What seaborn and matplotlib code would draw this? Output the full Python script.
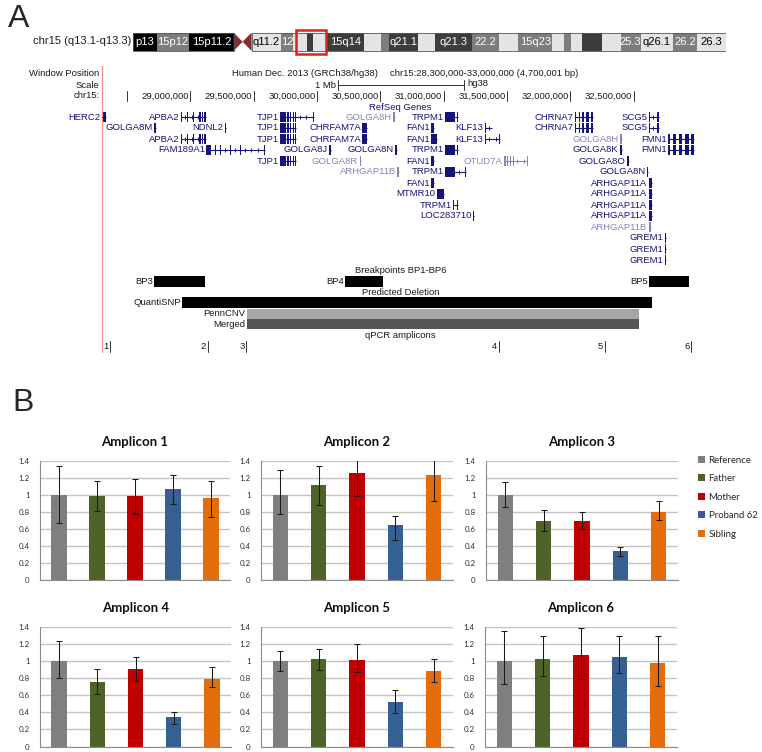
import numpy as np
import pandas as pd
import matplotlib
matplotlib.use("Agg")
import matplotlib.pyplot as plt
from matplotlib.patches import Rectangle, Polygon, Patch
import seaborn as sns

# ======================= DATA =======================
# ---- Panel A: chromosome 15 ideogram (Mb) ----
band_edges = [0, 4.1, 9.7, 17.3, 20.4, 25.4, 27.6, 29.9, 30.9, 33.3, 39.7, 42.6, 44.0, 49.0,
              52.0, 58.3, 63.0, 66.3, 72.1, 74.2, 75.4, 77.2, 80.6, 83.9, 87.3, 92.9, 97.0, 102.0]
band_stains = ['k', 'm', 'k', 'acen', 'w', 'm', 'w', 'd', 'w', 'd', 'w', 'm', 'd', 'w', 'd', 'm',
               'w', 'm', 'w', 'm', 'w', 'd', 'w', 'm', 'w', 'm', 'w']
band_labels = ['p13', '15p12', '15p11.2', '', 'q11.2', '12', '', '', '', '15q14', '', '', 'q21.1', '',
               'q21.3', '22.2', '', '15q23', '', '', '', '', '', '25.3', 'q26.1', '26.2', '26.3']
window_start, window_end = 28.3, 33.0

ruler_ticks = [28.5, 29.0, 29.5, 30.0, 30.5, 31.0, 31.5, 32.0, 32.5]
scalebar_start, scalebar_len = 30.163, 1.0

# ---- Panel A: RefSeq genes (name, row, light colour, exon blocks in Mb) ----
TJP1_ex = [(29.708, 29.755), (29.765, 29.775), (29.787, 29.795), (29.808, 29.816), (29.826, 29.834)]
APBA2_ex = [(28.924, 28.930), (28.975, 28.981), (29.022, 29.028), (29.072, 29.082), (29.093, 29.101), (29.110, 29.127)]
TRPM1_ex = [(31.010, 31.090), (31.105, 31.113)]
CHRNA7_ex = [(32.037, 32.041), (32.072, 32.078), (32.089, 32.105), (32.121, 32.145), (32.160, 32.179)]
SCG5_ex = [(32.619, 32.623), (32.683, 32.700)]
FMN1_ex = [(32.771, 32.787), (32.808, 32.832), (32.858, 32.884), (32.902, 32.936), (32.950, 32.976)]
ARHGAP11A_ex = [(32.621, 32.647)]

gene_names = ['HERC2', 'APBA2', 'TJP1', 'GOLGA8H', 'TRPM1', 'CHRNA7', 'SCG5',
              'GOLGA8M', 'NDNL2', 'TJP1', 'CHRFAM7A', 'FAN1', 'KLF13', 'CHRNA7', 'SCG5',
              'APBA2', 'TJP1', 'CHRFAM7A', 'FAN1', 'KLF13', 'GOLGA8H', 'FMN1',
              'FAM189A1', 'GOLGA8J', 'GOLGA8N', 'TRPM1', 'GOLGA8K', 'FMN1',
              'TJP1', 'GOLGA8R', 'FAN1', 'OTUD7A', 'GOLGA8O',
              'ARHGAP11B', 'TRPM1', 'GOLGA8N',
              'FAN1', 'ARHGAP11A',
              'MTMR10', 'ARHGAP11A',
              'TRPM1', 'ARHGAP11A',
              'LOC283710', 'ARHGAP11A',
              'ARHGAP11B',
              'GREM1', 'GREM1', 'GREM1']
gene_rows = [1, 1, 1, 1, 1, 1, 1,
             2, 2, 2, 2, 2, 2, 2, 2,
             3, 3, 3, 3, 3, 3, 3,
             4, 4, 4, 4, 4, 4,
             5, 5, 5, 5, 5,
             6, 6, 6,
             7, 7,
             8, 8,
             9, 9,
             10, 10,
             11,
             12, 13, 14]
gene_light = [False, False, False, True, False, False, False,
              False, False, False, False, False, False, False, False,
              False, False, False, False, False, True, False,
              False, False, False, False, False, False,
              False, True, False, True, False,
              True, False, False,
              False, False,
              False, False,
              False, False,
              False, False,
              True,
              False, False, False]
gene_exons = [[(28.303, 28.334)], APBA2_ex, TJP1_ex + [(29.965, 29.976)], [(30.603, 30.619)], TRPM1_ex, CHRNA7_ex, SCG5_ex,
              [(28.713, 28.732)], [(29.273, 29.284)], TJP1_ex, [(30.358, 30.398)], [(30.903, 30.923)],
              [(31.326, 31.330), (31.378, 31.384)], CHRNA7_ex, SCG5_ex,
              APBA2_ex, TJP1_ex, [(30.358, 30.398)], [(30.903, 30.950)], [(31.326, 31.330), (31.436, 31.442)],
              [(32.392, 32.411)], FMN1_ex,
              [(29.127, 29.166), (29.197, 29.206), (29.235, 29.241), (29.316, 29.322), (29.395, 29.401), (29.582, 29.587)],
              [(30.094, 30.108)], [(30.613, 30.629)], TRPM1_ex, [(32.392, 32.411)], FMN1_ex,
              TJP1_ex, [(30.337, 30.350)], [(30.903, 30.923)],
              [(31.476, 31.490), (31.498, 31.510), (31.520, 31.532), (31.545, 31.552), (31.655, 31.661)],
              [(32.445, 32.463)],
              [(30.634, 30.647)], [(31.010, 31.087), (31.170, 31.174)], [(32.603, 32.613)],
              [(30.903, 30.923)], ARHGAP11A_ex,
              [(30.945, 31.002)], ARHGAP11A_ex,
              [(31.077, 31.080), (31.105, 31.113)], ARHGAP11A_ex,
              [(31.231, 31.242)], ARHGAP11A_ex,
              [(32.621, 32.640)],
              [(32.745, 32.757)], [(32.745, 32.757)], [(32.745, 32.757)]]

# ---- Panel A: breakpoints, predicted deletion, qPCR amplicons (Mb) ----
bp_names = ['BP3', 'BP4', 'BP5']
bp_starts = [28.710, 30.218, 32.618]
bp_ends = [29.113, 30.518, 32.934]
caller_names = ['QuantiSNP', 'PennCNV', 'Merged']
caller_starts = [28.932, 29.445, 29.445]
caller_ends = [32.642, 32.539, 32.539]
amplicon_ids = ['1', '2', '3', '4', '5', '6']
amplicon_pos = [28.367, 29.137, 29.441, 31.434, 32.271, 32.954]

# ---- Panel B: qPCR relative copy number ----
amplicons = ['Amplicon 1', 'Amplicon 2', 'Amplicon 3', 'Amplicon 4', 'Amplicon 5', 'Amplicon 6']
members = ['Reference', 'Father', 'Mother', 'Proband 62', 'Sibling']
member_colors = ['#7f7f7f', '#4f6228', '#c00000', '#376092', '#e46c0a']

amp1_vals = [1.00, 0.98, 0.98, 1.07, 0.96]
amp1_lo = [0.67, 0.81, 0.78, 0.89, 0.74]
amp1_hi = [1.34, 1.16, 1.18, 1.23, 1.16]
amp2_vals = [1.00, 1.11, 1.25, 0.65, 1.23]
amp2_lo = [0.77, 0.88, 0.99, 0.47, 0.93]
amp2_hi = [1.29, 1.34, 1.46, 0.75, 1.47]
amp3_vals = [1.00, 0.69, 0.69, 0.34, 0.80]
amp3_lo = [0.86, 0.57, 0.60, 0.28, 0.70]
amp3_hi = [1.15, 0.82, 0.80, 0.39, 0.93]
amp4_vals = [1.00, 0.76, 0.91, 0.34, 0.79]
amp4_lo = [0.80, 0.61, 0.77, 0.26, 0.70]
amp4_hi = [1.24, 0.91, 1.05, 0.40, 0.93]
amp5_vals = [1.00, 1.02, 1.01, 0.52, 0.89]
amp5_lo = [0.88, 0.90, 0.87, 0.39, 0.75]
amp5_hi = [1.12, 1.14, 1.20, 0.66, 1.03]
amp6_vals = [1.00, 1.02, 1.07, 1.05, 0.98]
amp6_lo = [0.73, 0.83, 0.79, 0.86, 0.71]
amp6_hi = [1.35, 1.30, 1.39, 1.30, 1.30]
y_ticks = [0, 0.2, 0.4, 0.6, 0.8, 1.0, 1.2, 1.4]

# ======================= FIGURE =======================
sns.set_style("white")
plt.rcParams["font.family"] = ["Liberation Sans", "DejaVu Sans"]

W, H = 762, 752
fig = plt.figure(figsize=(W / 100, H / 100), dpi=100)


def px_axes(x0, y0, x1, y1):
    return fig.add_axes([x0 / W, 1 - y1 / H, (x1 - x0) / W, (y1 - y0) / H])


NAVY = '#14147a'
LIGHT = '#8585bd'
TXT = '#1a1a1a'
FS = 6.8
NARROW = ['Liberation Sans Narrow', 'Liberation Sans', 'DejaVu Sans']

fig.text(8 / W, 1 - 4 / H, 'A', fontsize=23, ha='left', va='top')
fig.text(12 / W, 1 - 388 / H, 'B', fontsize=23, ha='left', va='top')

# ---------- ideogram ----------
axI = px_axes(133, 0, 726, 60)
axI.set_xlim(0, 102)
axI.set_ylim(60, 0)
axI.axis('off')
stain_col = {'k': '#000000', 'd': '#3c3c3c', 'm': '#7d7d7d', 'w': '#e4e4e4', 'acen': '#8b2a2a'}
yt, yb = 32.5, 51.0
for s, e, st, lb in zip(band_edges[:-1], band_edges[1:], band_stains, band_labels):
    if st == 'acen':
        mid = (s + e) / 2
        axI.add_patch(Polygon([(s, yt), (mid, (yt + yb) / 2), (s, yb)], closed=True, fc=stain_col[st], ec='none'))
        axI.add_patch(Polygon([(e, yt), (mid, (yt + yb) / 2), (e, yb)], closed=True, fc=stain_col[st], ec='none'))
        continue
    axI.add_patch(Rectangle((s, yt), e - s, yb - yt, fc=stain_col[st], ec='none'))
    if lb:
        axI.text((s + e) / 2, (yt + yb) / 2 + 0.5, lb, ha='center', va='center', fontsize=8,
                 family=NARROW, color='white' if st in ('k', 'd', 'm') else 'black')
acen_i = band_stains.index('acen')
axI.add_patch(Rectangle((0, yt), band_edges[acen_i], yb - yt, fc='none', ec='#555555', lw=0.6))
axI.add_patch(Rectangle((band_edges[acen_i + 1], yt), band_edges[-1] - band_edges[acen_i + 1], yb - yt,
                        fc='none', ec='#555555', lw=0.6))
axI.add_patch(Rectangle((window_start - 0.2, 30.0), window_end - window_start + 0.4, 23.5,
                        fc='none', ec='#e0201c', lw=1.8, clip_on=False))
fig.text(131 / W, 1 - 41.5 / H, 'chr15 (q13.1-q13.3)', fontsize=8, ha='right', va='center', color=TXT)

# ---------- browser window ----------
axA = px_axes(0, 0, W, 360)
axA.set_xlim(27.497, 33.513)
axA.set_ylim(360, 0)
axA.axis('off')
pxmb = 1 / 126.66  # one pixel in Mb

axA.text(window_start - 2 * pxmb, 73, 'Window Position', ha='right', va='center', fontsize=FS, color=TXT)
axA.text(window_start - 2 * pxmb, 85, 'Scale', ha='right', va='center', fontsize=FS, color=TXT)
axA.text(window_start - 2 * pxmb, 96, 'chr15:', ha='right', va='center', fontsize=FS, color=TXT)
axA.text(29.330, 73, 'Human Dec. 2013 (GRCh38/hg38)', ha='left', va='center', fontsize=FS, color=TXT)
axA.text(30.575, 73, 'chr15:28,300,000-33,000,000 (4,700,001 bp)', ha='left', va='center', fontsize=FS, color=TXT)
# scale bar
axA.plot([scalebar_start, scalebar_start + scalebar_len], [85, 85], color='#333333', lw=0.7)
for xx in (scalebar_start, scalebar_start + scalebar_len):
    axA.plot([xx, xx], [80, 90], color='#333333', lw=0.7)
axA.text(scalebar_start - 2 * pxmb, 85, '1 Mb', ha='right', va='center', fontsize=FS, color=TXT)
axA.text(scalebar_start + scalebar_len + 3 * pxmb, 83, 'hg38', ha='left', va='center', fontsize=FS, color=TXT)
# ruler
for t in ruler_ticks:
    axA.plot([t, t], [90.5, 101], color='#333333', lw=0.7)
    if t >= 29.0:
        axA.text(t - 1.5 * pxmb, 96, f'{int(round(t * 1e6)):,}', ha='right', va='center', fontsize=FS, color=TXT)
# window left red line
axA.plot([window_start, window_start], [66, 352], color='#f09090', lw=0.9)
axA.text(30.66, 107, 'RefSeq Genes', ha='center', va='center', fontsize=FS, color=NAVY)

# genes
row_y0, row_dy = 116.7, 11.0
for name, row, light, exons in zip(gene_names, gene_rows, gene_light, gene_exons):
    y = row_y0 + row_dy * (row - 1)
    col = LIGHT if light else NAVY
    gs, ge = exons[0][0], exons[-1][1]
    axA.plot([gs, ge], [y, y], color=col, lw=0.8, solid_capstyle='butt')
    for (a, b), (c, d) in zip(exons[:-1], exons[1:]):
        if c - b > 0.04:
            marks = np.arange(b + 0.03, c - 0.01, 0.05)
            axA.plot(marks, np.full(len(marks), y), ls='none', marker='|', ms=3.5, mew=0.7, color=col)
    for a, b in exons:
        axA.add_patch(Rectangle((a, y - 5), max(b - a, 0.9 * pxmb), 10, fc=col, ec='none'))
    axA.text(gs - 1.5 * pxmb, y + 0.3, name, ha='right', va='center', fontsize=FS, color=col)

# breakpoint / deletion / amplicon tracks
axA.text(30.66, 270.5, 'Breakpoints BP1-BP6', ha='center', va='center', fontsize=FS, color=TXT)
for n, s, e in zip(bp_names, bp_starts, bp_ends):
    axA.add_patch(Rectangle((s, 276), e - s, 11, fc='black', ec='none'))
    axA.text(s - 1 * pxmb, 281.5, n, ha='right', va='center', fontsize=FS, color=TXT)
axA.text(30.66, 292, 'Predicted Deletion', ha='center', va='center', fontsize=FS, color=TXT)
caller_y = [297, 308.5, 319]
caller_h = [11, 10, 10]
caller_cols = ['#000000', '#a6a6a6', '#555555']
for n, s, e, y, h, c in zip(caller_names, caller_starts, caller_ends, caller_y, caller_h, caller_cols):
    axA.add_patch(Rectangle((s, y), e - s, h, fc=c, ec='none'))
    axA.text(s - 1 * pxmb, y + h / 2, n, ha='right', va='center', fontsize=FS, color=TXT)
axA.text(30.66, 335.5, 'qPCR amplicons', ha='center', va='center', fontsize=FS, color=TXT)
for n, p in zip(amplicon_ids, amplicon_pos):
    axA.plot([p, p], [340.5, 351.5], color='#333333', lw=0.7)
    axA.text(p - 1.5 * pxmb, 346.5, n, ha='right', va='center', fontsize=FS, color=TXT)

# ---------- Panel B ----------
rows = []
for amp, vals, lo, hi in zip(amplicons,
                             [amp1_vals, amp2_vals, amp3_vals, amp4_vals, amp5_vals, amp6_vals],
                             [amp1_lo, amp2_lo, amp3_lo, amp4_lo, amp5_lo, amp6_lo],
                             [amp1_hi, amp2_hi, amp3_hi, amp4_hi, amp5_hi, amp6_hi]):
    for m, v, l, h in zip(members, vals, lo, hi):
        rows.append({'amplicon': amp, 'member': m, 'value': v, 'lo': l, 'hi': h})
df = pd.DataFrame(rows)

CAL = ['Lato', 'DejaVu Sans']
boxes = [(40, 460.7, 230, 580), (261, 460.7, 453, 580), (486, 460.7, 678, 580),
         (40, 627, 231, 746.5), (261, 627, 453, 746.5), (485, 627, 677, 746.5)]
for amp, (x0, y0, x1, y1) in zip(amplicons, boxes):
    ax = px_axes(x0, y0, x1, y1)
    sub = df[df['amplicon'] == amp]
    sns.barplot(data=sub, x='member', y='value', hue='member', order=members, hue_order=members,
                palette=member_colors, saturation=1, errorbar=None, width=0.4, legend=False,
                linewidth=0, ax=ax)
    xs = np.arange(len(members))
    v = sub['value'].to_numpy()
    ax.errorbar(xs, v, yerr=[v - sub['lo'].to_numpy(), sub['hi'].to_numpy() - v], fmt='none',
                ecolor='#1a1a1a', elinewidth=0.75, capsize=2.2, capthick=0.75, zorder=5)
    ax.set_xlim(-0.5, len(members) - 0.5)
    ax.set_ylim(0, 1.4)
    ax.set_yticks(y_ticks)
    ax.set_yticklabels([f'{t:g}' for t in y_ticks], fontsize=5.8, family=CAL, color='#333333')
    ax.set_xticks(np.arange(-0.5, len(members), 1.0))
    ax.set_xticklabels([])
    ax.set_xlabel('')
    ax.set_ylabel('')
    ax.yaxis.grid(True, color='#c4c4c4', lw=1.0)
    ax.xaxis.grid(False)
    ax.set_axisbelow(True)
    for sp in ('top', 'right'):
        ax.spines[sp].set_visible(False)
    for sp in ('left', 'bottom'):
        ax.spines[sp].set_color('#8c8c8c')
        ax.spines[sp].set_linewidth(0.8)
    ax.tick_params(axis='x', length=3, width=0.8, color='#8c8c8c', direction='out')
    ax.tick_params(axis='y', length=2.5, width=0.8, color='#8c8c8c', direction='out', pad=5)
    ax.text(0.5, 1 + 19 / (y1 - y0), amp, transform=ax.transAxes, ha='center', va='center',
            fontsize=9.5, fontweight='bold', family=CAL, color='#111111')

handles = [Patch(facecolor=c, edgecolor='none', label=m) for m, c in zip(members, member_colors)]
fig.legend(handles=handles, loc='upper left', bbox_to_anchor=(698 / W, 1 - 455.5 / H),
           bbox_transform=fig.transFigure, frameon=False, prop={'family': CAL, 'size': 6.9},
           handlelength=0.75, handleheight=0.75, handletextpad=0.35, labelspacing=1.0,
           borderpad=0, borderaxespad=0)

fig.savefig('out.png', dpi=100)
